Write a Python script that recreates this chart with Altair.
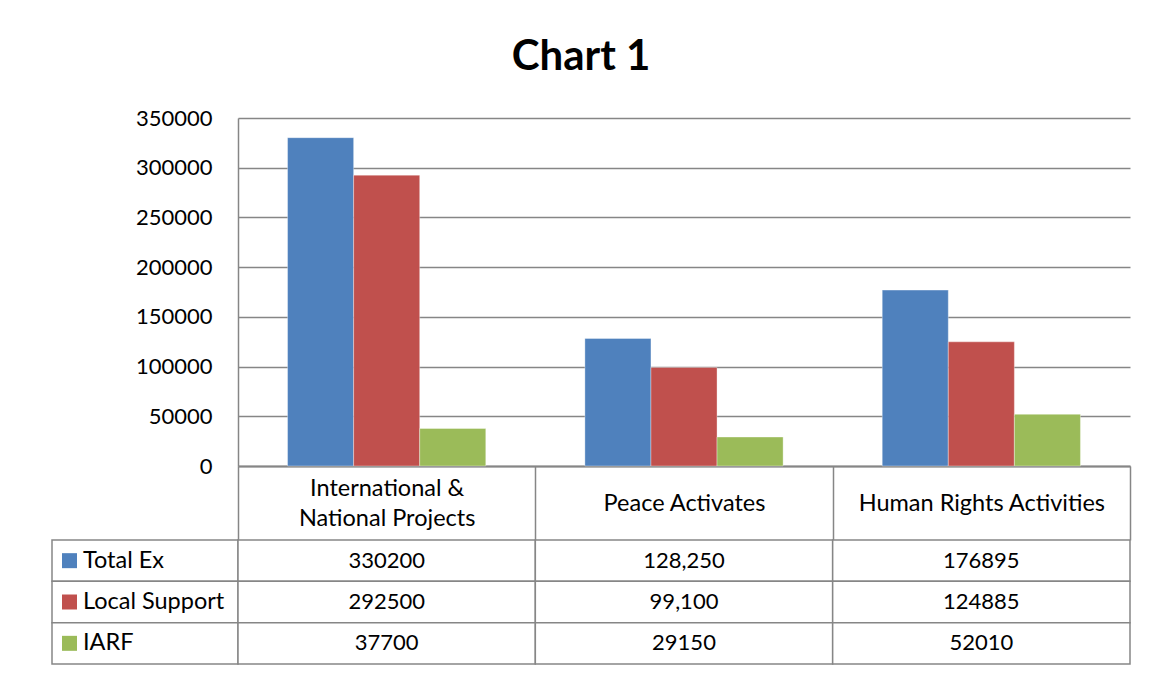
import altair as alt
import pandas as pd

categories = ["International & National Projects", "Peace Activates", "Human Rights Activities"]
series = ["Total Ex", "Local Support", "IARF"]
total_ex = [330200, 128250, 176895]
local_support = [292500, 99100, 124885]
iarf = [37700, 29150, 52010]
table_text = [
    ["330200", "128,250", "176895"],
    ["292500", "99,100", "124885"],
    ["37700", "29150", "52010"],
]
y_ticks = [0, 50000, 100000, 150000, 200000, 250000, 300000, 350000]
colors = ["#4F81BD", "#C0504D", "#9BBB59"]

GRID = "#868686"
FONT = "Lato"
FS_NUM = 22
FS_TXT = 23.5

rows = []
for s, vals, texts in zip(series, [total_ex, local_support, iarf], table_text):
    for c, v, t in zip(categories, vals, texts):
        rows.append({"category": c, "series": s, "value": v, "label": t})
df = pd.DataFrame(rows)

color_scale = alt.Scale(domain=series, range=colors)
two_line = "datum.value == 'International & National Projects'"

bars = alt.Chart(df).mark_bar(stroke="#ffffff", strokeOpacity=0.35, strokeWidth=1).encode(
    x=alt.X("category:N", sort=categories,
            scale=alt.Scale(paddingInner=0, paddingOuter=0),
            axis=alt.Axis(title="", labelAngle=0, domainColor=GRID, domainWidth=2,
                          ticks=True, tickBand="extent", tickSize=74, tickColor=GRID, tickWidth=1.5,
                          labelPadding={"condition": {"test": two_line, "value": -52}, "value": -37},
                          labelBaseline="middle", labelFontSize=FS_TXT,
                          labelLineHeight=30, labelColor="#000000", labelLimit=400,
                          labelExpr="datum.label == 'International & National Projects' ? ['International &', 'National Projects'] : datum.label")),
    xOffset=alt.XOffset("series:N", sort=series,
                        scale=alt.Scale(paddingInner=0, paddingOuter=0.75)),
    y=alt.Y("value:Q", scale=alt.Scale(domain=[0, 350000], nice=False),
            axis=alt.Axis(title="", values=y_ticks, format="d", ticks=False, labelPadding=26,
                          labelFontSize=FS_NUM, labelColor="#000000", domainColor=GRID, domainWidth=1.5,
                          gridColor=GRID, gridWidth=1.5)),
    color=alt.Color("series:N", scale=color_scale, legend=None),
).properties(width=892, height=348)

empty = alt.Chart(pd.DataFrame({"a": [0]})).mark_point(opacity=0).encode(
    x=alt.value(0), y=alt.value(0)
).properties(width=186, height=348)

row_y = alt.Y("series:N", sort=series, scale=alt.Scale(paddingInner=0, paddingOuter=0), axis=None)

leg_df = pd.DataFrame({"series": series})
leg_cells = alt.Chart(leg_df).mark_rect(fill="white", stroke=GRID, strokeWidth=1.5).encode(
    y=row_y, x=alt.value(0), x2=alt.value(186)
)
leg_sq = alt.Chart(leg_df).mark_square(size=225, opacity=1, filled=True).encode(
    y=row_y, x=alt.value(17.5), color=alt.Color("series:N", scale=color_scale, legend=None)
)
leg_txt = alt.Chart(leg_df).mark_text(align="left", baseline="middle", fontSize=FS_TXT, color="#000000").encode(
    y=row_y, x=alt.value(31), text="series:N"
)
legend_col = alt.layer(leg_cells, leg_sq, leg_txt).properties(width=186, height=124)

col_x = alt.X("category:N", sort=categories, scale=alt.Scale(paddingInner=0, paddingOuter=0), axis=None)
tab_cells = alt.Chart(df).mark_rect(fill="white", stroke=GRID, strokeWidth=1.5).encode(x=col_x, y=row_y)
tab_txt = alt.Chart(df).mark_text(align="center", baseline="middle", fontSize=FS_NUM, color="#000000").encode(
    x=col_x, y=row_y, text="label:N"
)
table = alt.layer(tab_cells, tab_txt).properties(width=892, height=124)

chart = alt.concat(
    empty, bars, legend_col, table,
    columns=2, spacing={"row": 74, "column": 0}, bounds="flush", align="each",
).properties(
    title=alt.TitleParams("Chart 1", fontSize=42, font=FONT, fontWeight="bold",
                          anchor="middle", color="#000000", offset=28, dx=-9),
    padding={"left": 41, "top": 28, "right": 10, "bottom": 5},
).configure(font=FONT).configure_view(strokeWidth=0)

chart.save("out.html", embed_options={"renderer": "svg", "actions": False})
